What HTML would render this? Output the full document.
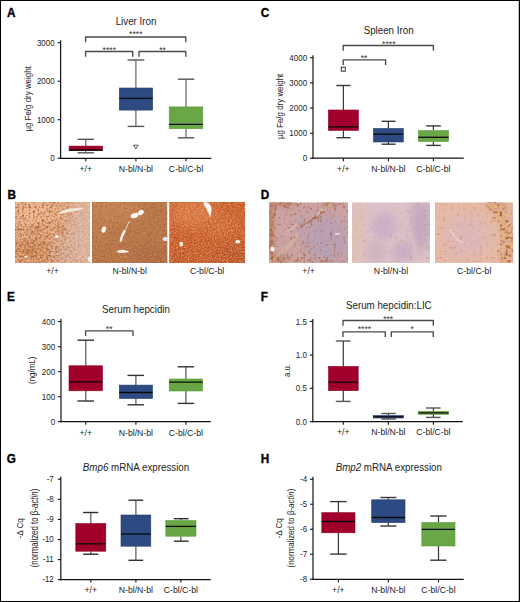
<!DOCTYPE html><html><head><meta charset="utf-8"><style>html,body{margin:0;padding:0;background:#fff}svg{display:block;font-family:"Liberation Sans",sans-serif}</style></head><body>
<svg width="520" height="602" viewBox="0 0 520 602">
<defs><filter id="b2" x="-100%" y="-100%" width="300%" height="300%"><feGaussianBlur stdDeviation="2"/></filter><filter id="b3" x="-100%" y="-100%" width="300%" height="300%"><feGaussianBlur stdDeviation="3"/></filter><filter id="b4" x="-100%" y="-100%" width="300%" height="300%"><feGaussianBlur stdDeviation="4"/></filter><filter id="b6" x="-100%" y="-100%" width="300%" height="300%"><feGaussianBlur stdDeviation="6"/></filter><filter id="b8" x="-100%" y="-100%" width="300%" height="300%"><feGaussianBlur stdDeviation="8"/></filter><filter id="b1" x="-50%" y="-50%" width="200%" height="200%"><feGaussianBlur stdDeviation="0.7"/></filter><linearGradient id="gB1" x1="0" y1="0" x2="1" y2="0"><stop offset="0" stop-color="#fff"/><stop offset="0.55" stop-color="#fff"/><stop offset="0.8" stop-color="#666"/><stop offset="1" stop-color="#222"/></linearGradient><mask id="mB1" maskContentUnits="userSpaceOnUse"><rect x="15" y="202" width="75" height="61" fill="url(#gB1)"/></mask><filter id="s_dark" x="0" y="0" width="100%" height="100%" color-interpolation-filters="sRGB"><feTurbulence type="fractalNoise" baseFrequency="0.28" numOctaves="1" seed="11"/><feColorMatrix type="matrix" values="0 0 0 0 0.588  0 0 0 0 0.294  0 0 0 0 0.137  6 0 0 0 -3.0"/><feGaussianBlur stdDeviation="0.9"/></filter><filter id="s_light" x="0" y="0" width="100%" height="100%" color-interpolation-filters="sRGB"><feTurbulence type="fractalNoise" baseFrequency="0.33" numOctaves="1" seed="5"/><feColorMatrix type="matrix" values="0 0 0 0 0.961  0 0 0 0 0.843  0 0 0 0 0.745  6 0 0 0 -3.3"/><feGaussianBlur stdDeviation="0.8"/></filter><filter id="s_brn" x="0" y="0" width="100%" height="100%" color-interpolation-filters="sRGB"><feTurbulence type="fractalNoise" baseFrequency="0.33" numOctaves="1" seed="31"/><feColorMatrix type="matrix" values="0 0 0 0 0.667  0 0 0 0 0.353  0 0 0 0 0.196  7 0 0 0 -4.0"/><feGaussianBlur stdDeviation="0.8"/></filter><filter id="s_org" x="0" y="0" width="100%" height="100%" color-interpolation-filters="sRGB"><feTurbulence type="fractalNoise" baseFrequency="0.33" numOctaves="1" seed="41"/><feColorMatrix type="matrix" values="0 0 0 0 0.784  0 0 0 0 0.471  0 0 0 0 0.275  7 0 0 0 -4.0"/><feGaussianBlur stdDeviation="0.8"/></filter><filter id="s_mott" x="0" y="0" width="100%" height="100%" color-interpolation-filters="sRGB"><feTurbulence type="fractalNoise" baseFrequency="0.09" numOctaves="3" seed="51"/><feColorMatrix type="matrix" values="0 0 0 0 0.588  0 0 0 0 0.314  0 0 0 0 0.176  3 0 0 0 -1.6"/><feGaussianBlur stdDeviation="1"/></filter><filter id="s_lightB" x="0" y="0" width="100%" height="100%" color-interpolation-filters="sRGB"><feTurbulence type="fractalNoise" baseFrequency="0.36" numOctaves="1" seed="71"/><feColorMatrix type="matrix" values="0 0 0 0 0.882  0 0 0 0 0.667  0 0 0 0 0.510  6 0 0 0 -3.3"/><feGaussianBlur stdDeviation="0.8"/></filter><filter id="s_lightC" x="0" y="0" width="100%" height="100%" color-interpolation-filters="sRGB"><feTurbulence type="fractalNoise" baseFrequency="0.33" numOctaves="1" seed="81"/><feColorMatrix type="matrix" values="0 0 0 0 0.922  0 0 0 0 0.647  0 0 0 0 0.451  6 0 0 0 -3.2"/><feGaussianBlur stdDeviation="0.8"/></filter><filter id="t_B1L" x="0" y="0" width="100%" height="100%" color-interpolation-filters="sRGB"><feTurbulence type="fractalNoise" baseFrequency="0.5" numOctaves="2" seed="101"/><feColorMatrix type="matrix" values="0 0 0 0 0.961  0 0 0 0 0.804  0 0 0 0 0.686  3 0 0 0 -1.25"/><feGaussianBlur stdDeviation="0.5"/></filter><filter id="t_B1D" x="0" y="0" width="100%" height="100%" color-interpolation-filters="sRGB"><feTurbulence type="fractalNoise" baseFrequency="0.45" numOctaves="2" seed="102"/><feColorMatrix type="matrix" values="0 0 0 0 0.627  0 0 0 0 0.314  0 0 0 0 0.149  3 0 0 0 -1.35"/><feGaussianBlur stdDeviation="0.5"/></filter><filter id="t_B2L" x="0" y="0" width="100%" height="100%" color-interpolation-filters="sRGB"><feTurbulence type="fractalNoise" baseFrequency="0.55" numOctaves="2" seed="103"/><feColorMatrix type="matrix" values="0 0 0 0 0.804  0 0 0 0 0.569  0 0 0 0 0.392  3 0 0 0 -1.2"/><feGaussianBlur stdDeviation="0.5"/></filter><filter id="t_B2D" x="0" y="0" width="100%" height="100%" color-interpolation-filters="sRGB"><feTurbulence type="fractalNoise" baseFrequency="0.5" numOctaves="2" seed="104"/><feColorMatrix type="matrix" values="0 0 0 0 0.549  0 0 0 0 0.314  0 0 0 0 0.157  3 0 0 0 -1.4"/><feGaussianBlur stdDeviation="0.5"/></filter><filter id="t_B3L" x="0" y="0" width="100%" height="100%" color-interpolation-filters="sRGB"><feTurbulence type="fractalNoise" baseFrequency="0.7" numOctaves="2" seed="105"/><feColorMatrix type="matrix" values="0 0 0 0 0.961  0 0 0 0 0.667  0 0 0 0 0.451  2.6 0 0 0 -1.0"/><feGaussianBlur stdDeviation="0.4"/></filter><filter id="t_B3D" x="0" y="0" width="100%" height="100%" color-interpolation-filters="sRGB"><feTurbulence type="fractalNoise" baseFrequency="0.6" numOctaves="2" seed="106"/><feColorMatrix type="matrix" values="0 0 0 0 0.627  0 0 0 0 0.235  0 0 0 0 0.098  2.6 0 0 0 -1.1"/><feGaussianBlur stdDeviation="0.4"/></filter><filter id="t_dots" x="0" y="0" width="100%" height="100%" color-interpolation-filters="sRGB"><feTurbulence type="fractalNoise" baseFrequency="0.3" numOctaves="1" seed="201"/><feColorMatrix type="matrix" values="0 0 0 0 0.627  0 0 0 0 0.333  0 0 0 0 0.196  12 0 0 0 -7.7"/><feGaussianBlur stdDeviation="0.45"/></filter><filter id="t_dots2" x="0" y="0" width="100%" height="100%" color-interpolation-filters="sRGB"><feTurbulence type="fractalNoise" baseFrequency="0.3" numOctaves="1" seed="202"/><feColorMatrix type="matrix" values="0 0 0 0 0.706  0 0 0 0 0.392  0 0 0 0 0.235  12 0 0 0 -7.7"/><feGaussianBlur stdDeviation="0.45"/></filter><filter id="t_dotsO" x="0" y="0" width="100%" height="100%" color-interpolation-filters="sRGB"><feTurbulence type="fractalNoise" baseFrequency="0.3" numOctaves="1" seed="203"/><feColorMatrix type="matrix" values="0 0 0 0 0.824  0 0 0 0 0.529  0 0 0 0 0.314  12 0 0 0 -7.7"/><feGaussianBlur stdDeviation="0.45"/></filter><linearGradient id="gD1" x1="0" y1="0" x2="1" y2="1"><stop offset="0" stop-color="#fff"/><stop offset="0.5" stop-color="#aaa"/><stop offset="1" stop-color="#444"/></linearGradient><mask id="mD1" maskContentUnits="userSpaceOnUse"><rect x="269.2" y="202.3" width="78.8" height="60.6" fill="url(#gD1)"/></mask><linearGradient id="gD3" x1="0" y1="0" x2="1" y2="0"><stop offset="0" stop-color="#555"/><stop offset="0.6" stop-color="#333"/><stop offset="0.8" stop-color="#bbb"/><stop offset="1" stop-color="#fff"/></linearGradient><mask id="mD3" maskContentUnits="userSpaceOnUse"><rect x="435" y="202.3" width="78.3" height="60.6" fill="url(#gD3)"/></mask><filter id="t_dotsD" x="0" y="0" width="100%" height="100%" color-interpolation-filters="sRGB"><feTurbulence type="fractalNoise" baseFrequency="0.35" numOctaves="1" seed="211"/><feColorMatrix type="matrix" values="0 0 0 0 0.667  0 0 0 0 0.373  0 0 0 0 0.196  8 0 0 0 -4.3"/><feGaussianBlur stdDeviation="0.45"/></filter><filter id="t_dotsG" x="0" y="0" width="100%" height="100%" color-interpolation-filters="sRGB"><feTurbulence type="fractalNoise" baseFrequency="0.35" numOctaves="1" seed="212"/><feColorMatrix type="matrix" values="0 0 0 0 0.922  0 0 0 0 0.725  0 0 0 0 0.471  8 0 0 0 -4.3"/><feGaussianBlur stdDeviation="0.45"/></filter><mask id="mD3b" maskContentUnits="userSpaceOnUse"><path d="M490 200 Q506 218 508 238 Q509 252 504 265" fill="none" stroke="#fff" stroke-width="11" filter="url(#b2)"/></mask><mask id="mD1b" maskContentUnits="userSpaceOnUse"><g fill="none" stroke="#fff" filter="url(#b2)"><path d="M271 200 L271 265" stroke-width="7"/><path d="M268 205 Q290 206 300 204" stroke-width="6"/><path d="M300 227 Q312 220 322 214 Q330 208 345 203" stroke-width="6"/><path d="M268 258 Q285 262 300 258 Q320 262 340 256" stroke-width="6"/><path d="M303 240 Q308 250 305 263" stroke-width="5"/></g></mask></defs>
<rect x="0" y="0" width="520" height="602" fill="#fff"/>
<text transform="translate(7.1 17.3) scale(0.95 1)" font-size="12.4" font-weight="bold" fill="#000" stroke="#000" stroke-width="0.35">A</text>
<text transform="translate(136 25.2) scale(0.94 1)" font-size="10.4" text-anchor="middle" fill="#1c1c1c">Liver Iron</text>
<text transform="translate(31.0 98.9) rotate(-90) scale(0.835 1)" x="0" y="0" font-size="9.5" text-anchor="middle" fill="#1c1c1c" >µg Fe/g dry weight</text>
<line x1="60.6" y1="40.2" x2="60.6" y2="158.9" stroke="#111" stroke-width="1.2"/>
<line x1="60.0" y1="158.3" x2="211.3" y2="158.3" stroke="#111" stroke-width="1.2"/>
<line x1="57.6" y1="42.7" x2="60.6" y2="42.7" stroke="#111" stroke-width="1.1"/>
<text transform="translate(54.70 45.80) scale(0.87 1)" font-size="9.2" text-anchor="end" fill="#1c1c1c">3000</text>
<line x1="57.6" y1="81.2" x2="60.6" y2="81.2" stroke="#111" stroke-width="1.1"/>
<text transform="translate(54.70 84.30) scale(0.87 1)" font-size="9.2" text-anchor="end" fill="#1c1c1c">2000</text>
<line x1="57.6" y1="119.7" x2="60.6" y2="119.7" stroke="#111" stroke-width="1.1"/>
<text transform="translate(54.70 122.80) scale(0.87 1)" font-size="9.2" text-anchor="end" fill="#1c1c1c">1000</text>
<line x1="57.6" y1="158.2" x2="60.6" y2="158.2" stroke="#111" stroke-width="1.1"/>
<text transform="translate(54.70 161.30) scale(0.87 1)" font-size="9.2" text-anchor="end" fill="#1c1c1c">0</text>
<line x1="85.8" y1="158.3" x2="85.8" y2="161.3" stroke="#111" stroke-width="1.1"/>
<text x="85.8" y="172.0" font-size="8.7" text-anchor="middle" fill="#1c1c1c" >+/+</text>
<line x1="135.9" y1="158.3" x2="135.9" y2="161.3" stroke="#111" stroke-width="1.1"/>
<text x="135.9" y="172.0" font-size="8.7" text-anchor="middle" fill="#1c1c1c" >N-bl/N-bl</text>
<line x1="186.0" y1="158.3" x2="186.0" y2="161.3" stroke="#111" stroke-width="1.1"/>
<text x="186.0" y="172.0" font-size="8.7" text-anchor="middle" fill="#1c1c1c" >C-bl/C-bl</text>
<path d="M85.6 42.3 V37.0 H185.8 V42.3" fill="none" stroke="#4a4a4a" stroke-width="1.35" stroke-linejoin="round"/>
<text x="135.8" y="37.4" font-size="8.6" text-anchor="middle" fill="#333" >****</text>
<path d="M85.6 56.8 V51.5 H132.7 V56.8" fill="none" stroke="#4a4a4a" stroke-width="1.35" stroke-linejoin="round"/>
<path d="M139.0 56.8 V51.5 H185.8 V56.8" fill="none" stroke="#4a4a4a" stroke-width="1.35" stroke-linejoin="round"/>
<text x="109.3" y="52.8" font-size="8.6" text-anchor="middle" fill="#333" >****</text>
<text x="162.6" y="52.8" font-size="8.6" text-anchor="middle" fill="#333" >**</text>
<line x1="85.8" y1="139.3" x2="85.8" y2="146.1" stroke="#666" stroke-width="1.2"/>
<line x1="85.8" y1="150.7" x2="85.8" y2="152.8" stroke="#666" stroke-width="1.2"/>
<line x1="77.6" y1="139.3" x2="93.9" y2="139.3" stroke="#555" stroke-width="1.4"/>
<line x1="77.6" y1="152.8" x2="93.9" y2="152.8" stroke="#555" stroke-width="1.4"/>
<rect x="69.1" y="146.1" width="33.400000000000006" height="4.599999999999994" fill="#a1002b" stroke="#8a0024" stroke-width="0.6"/>
<line x1="69.1" y1="150.0" x2="102.5" y2="150.0" stroke="#0a0a0a" stroke-width="1.3"/>
<line x1="135.9" y1="60.0" x2="135.9" y2="88.0" stroke="#666" stroke-width="1.2"/>
<line x1="135.9" y1="110.1" x2="135.9" y2="126.4" stroke="#666" stroke-width="1.2"/>
<line x1="127.6" y1="60.0" x2="144.3" y2="60.0" stroke="#555" stroke-width="1.4"/>
<line x1="127.6" y1="126.4" x2="144.3" y2="126.4" stroke="#555" stroke-width="1.4"/>
<rect x="119.3" y="88.0" width="33.3" height="22.099999999999994" fill="#2d4b82" stroke="#223c6c" stroke-width="0.6"/>
<line x1="119.3" y1="98.3" x2="152.6" y2="98.3" stroke="#0a0a0a" stroke-width="1.3"/>
<line x1="186.0" y1="79.2" x2="186.0" y2="106.9" stroke="#666" stroke-width="1.2"/>
<line x1="186.0" y1="128.7" x2="186.0" y2="137.8" stroke="#666" stroke-width="1.2"/>
<line x1="177.9" y1="79.2" x2="194.3" y2="79.2" stroke="#555" stroke-width="1.4"/>
<line x1="177.9" y1="137.8" x2="194.3" y2="137.8" stroke="#555" stroke-width="1.4"/>
<rect x="169.2" y="106.9" width="33.60000000000002" height="21.799999999999983" fill="#69a746" stroke="#5a9a3a" stroke-width="0.6"/>
<line x1="169.2" y1="124.4" x2="202.8" y2="124.4" stroke="#0a0a0a" stroke-width="1.3"/>
<path d="M133.7 145.2 H138.1 L135.9 148.9 Z" fill="none" stroke="#444" stroke-width="0.9"/>
<text transform="translate(7.4 198.9) scale(0.95 1)" font-size="12.4" font-weight="bold" fill="#000" stroke="#000" stroke-width="0.35">B</text>
<clipPath id="cb1"><rect x="15" y="202" width="75" height="61"/></clipPath>
<g clip-path="url(#cb1)">
<rect x="15" y="202" width="75" height="61" fill="#e0a77f"/>
<ellipse cx="32" cy="212" rx="20" ry="13" fill="#efbc94" filter="url(#b4)"/>
<ellipse cx="55" cy="210" rx="10" ry="7" fill="#e8b088" filter="url(#b4)"/>
<ellipse cx="32" cy="250" rx="18" ry="12" fill="#d2915f" filter="url(#b4)"/>
<path d="M74 202 L90 202 L90 263 L55 263 Q62 242 68 226 Z" fill="#d9b5a6" filter="url(#b6)"/>
<ellipse cx="62" cy="254" rx="10" ry="8" fill="#d6ae9a" filter="url(#b4)"/>
<ellipse cx="38" cy="229" rx="5" ry="3" fill="#a55a2c" opacity="0.45" filter="url(#b2)"/>
<ellipse cx="62" cy="230" rx="4" ry="2.5" fill="#a55a2c" opacity="0.4" filter="url(#b2)"/>
<ellipse cx="30" cy="250" rx="5" ry="3" fill="#a55a2c" opacity="0.5" filter="url(#b2)"/>
<ellipse cx="48" cy="258" rx="4" ry="2" fill="#a55a2c" opacity="0.4" filter="url(#b2)"/>
<ellipse cx="44" cy="243" rx="3" ry="2" fill="#a55a2c" opacity="0.35" filter="url(#b2)"/>
<rect x="15" y="202" width="75" height="61" fill="#000" filter="url(#t_B1L)" opacity="0.6"/>
<g opacity="0.8" mask="url(#mB1)"><rect x="15" y="202" width="75" height="61" fill="#000" filter="url(#t_B1D)"/></g>
<path d="M58.5 213.5 Q62 209.5 70 208.5 L84.5 207.5 Q82 210 74 211.3 Q66 212.3 60.5 214.3 Z" fill="#efe6dc"/>
<path d="M52 219 Q56 216 60 215" stroke="#e6d6ca" stroke-width="0.8" fill="none"/>
<ellipse cx="57" cy="236.8" rx="1.9" ry="1.5" fill="#fdfaf6"/>
<ellipse cx="26" cy="256.8" rx="1.7" ry="1.1" fill="#f8f2ea"/>
<path d="M21.5 238.5 L24.5 236.5" stroke="#f3ebe3" stroke-width="0.9"/>
<ellipse cx="89" cy="259" rx="1.5" ry="2.5" fill="#e8eef2"/>
</g>
<clipPath id="cb2"><rect x="92" y="202" width="75.4" height="61"/></clipPath>
<g clip-path="url(#cb2)">
<rect x="92" y="202" width="75.4" height="61" fill="#b97549"/>
<ellipse cx="115" cy="210" rx="30" ry="12" fill="#c98654" filter="url(#b6)"/>
<ellipse cx="100" cy="228" rx="8" ry="16" fill="#c2804f" filter="url(#b6)"/>
<ellipse cx="152" cy="256" rx="22" ry="9" fill="#ad6a40" filter="url(#b6)"/>
<rect x="92" y="202" width="75.4" height="61" fill="#000" filter="url(#t_B2L)" opacity="0.6"/>
<rect x="92" y="202" width="75.4" height="61" fill="#000" filter="url(#t_B2D)" opacity="0.4"/>
<g filter="url(#b1)" fill="#fbf8f3">
<ellipse cx="134.5" cy="215.6" rx="4" ry="2.4" transform="rotate(-20 134.5 215.6)"/>
<ellipse cx="140.8" cy="212.6" rx="3.2" ry="2.2" transform="rotate(-35 140.8 212.6)"/>
<ellipse cx="103.8" cy="229.5" rx="2.1" ry="3.3" transform="rotate(20 103.8 229.5)"/>
<path d="M129.5 221 Q127.5 225 125.5 229.5" stroke="#efe4d8" stroke-width="1" fill="none"/>
<path d="M124.5 231 Q122 235 120.8 240.5" stroke="#f6f0e8" stroke-width="2.4" fill="none" stroke-linecap="round"/>
<path d="M116.5 251.8 Q118 249.5 121 250 Q124 249.2 126 250.5 Q129 250.8 129 252.3 Q124 253.3 119 253 Z" fill="#f3ece2"/>
<ellipse cx="166" cy="239" rx="3.5" ry="2" fill="#dfeaf0"/>
</g>
</g>
<clipPath id="cb3"><rect x="169.2" y="202" width="75.8" height="61"/></clipPath>
<g clip-path="url(#cb3)">
<rect x="169.2" y="202" width="75.8" height="61" fill="#c65a28"/>
<ellipse cx="194" cy="214" rx="24" ry="14" fill="#da7c46" filter="url(#b6)"/>
<ellipse cx="222" cy="225" rx="16" ry="12" fill="#cf6a36" filter="url(#b6)"/>
<ellipse cx="232" cy="255" rx="20" ry="10" fill="#b4532a" filter="url(#b6)"/>
<ellipse cx="180" cy="258" rx="14" ry="8" fill="#bb5628" filter="url(#b6)"/>
<rect x="169.2" y="202" width="75.8" height="61" fill="#000" filter="url(#t_B3L)" opacity="0.75"/>
<rect x="169.2" y="202" width="75.8" height="61" fill="#000" filter="url(#t_B3D)" opacity="0.35"/>
<g filter="url(#b1)">
<path d="M203.3 202 Q207 201.8 209.6 204 Q212.2 207 211.2 212 L210.3 217.5 Q208.6 212.3 206 208.2 Q203.5 205 203.3 202 Z" fill="#fbf7f2"/>
<ellipse cx="181.3" cy="244.1" rx="2" ry="2.6" fill="#f4e8d0"/>
<ellipse cx="237.7" cy="241.7" rx="2.5" ry="1.6" fill="#fdfaf6"/>
</g>
</g>
<text x="52.5" y="273.9" font-size="8.7" text-anchor="middle" fill="#1c1c1c" >+/+</text>
<text x="129.7" y="273.9" font-size="8.7" text-anchor="middle" fill="#1c1c1c" >N-bl/N-bl</text>
<text x="207.1" y="273.9" font-size="8.7" text-anchor="middle" fill="#1c1c1c" >C-bl/C-bl</text>
<text transform="translate(260.8 17.3) scale(0.95 1)" font-size="12.4" font-weight="bold" fill="#000" stroke="#000" stroke-width="0.35">C</text>
<text transform="translate(388.6 33.7) scale(0.94 1)" font-size="10.4" text-anchor="middle" fill="#1c1c1c">Spleen Iron</text>
<text transform="translate(283.4 106.4) rotate(-90) scale(0.835 1)" x="0" y="0" font-size="9.5" text-anchor="middle" fill="#1c1c1c" >µg Fe/g dry weight</text>
<line x1="313.0" y1="55.2" x2="313.0" y2="158.79999999999998" stroke="#111" stroke-width="1.2"/>
<line x1="312.4" y1="158.2" x2="463.7" y2="158.2" stroke="#111" stroke-width="1.2"/>
<line x1="310.0" y1="57.7" x2="313.0" y2="57.7" stroke="#111" stroke-width="1.1"/>
<text transform="translate(307.10 60.80) scale(0.87 1)" font-size="9.2" text-anchor="end" fill="#1c1c1c">4000</text>
<line x1="310.0" y1="82.9" x2="313.0" y2="82.9" stroke="#111" stroke-width="1.1"/>
<text transform="translate(307.10 86.00) scale(0.87 1)" font-size="9.2" text-anchor="end" fill="#1c1c1c">3000</text>
<line x1="310.0" y1="108.1" x2="313.0" y2="108.1" stroke="#111" stroke-width="1.1"/>
<text transform="translate(307.10 111.20) scale(0.87 1)" font-size="9.2" text-anchor="end" fill="#1c1c1c">2000</text>
<line x1="310.0" y1="133.3" x2="313.0" y2="133.3" stroke="#111" stroke-width="1.1"/>
<text transform="translate(307.10 136.40) scale(0.87 1)" font-size="9.2" text-anchor="end" fill="#1c1c1c">1000</text>
<line x1="310.0" y1="158.2" x2="313.0" y2="158.2" stroke="#111" stroke-width="1.1"/>
<text transform="translate(307.10 161.30) scale(0.87 1)" font-size="9.2" text-anchor="end" fill="#1c1c1c">0</text>
<line x1="343.4" y1="158.2" x2="343.4" y2="161.2" stroke="#111" stroke-width="1.1"/>
<text x="343.4" y="171.9" font-size="8.7" text-anchor="middle" fill="#1c1c1c" >+/+</text>
<line x1="388.4" y1="158.2" x2="388.4" y2="161.2" stroke="#111" stroke-width="1.1"/>
<text x="388.4" y="171.9" font-size="8.7" text-anchor="middle" fill="#1c1c1c" >N-bl/N-bl</text>
<line x1="433.4" y1="158.2" x2="433.4" y2="161.2" stroke="#111" stroke-width="1.1"/>
<text x="433.4" y="171.9" font-size="8.7" text-anchor="middle" fill="#1c1c1c" >C-bl/C-bl</text>
<path d="M343.2 50.8 V45.5 H433.4 V50.8" fill="none" stroke="#4a4a4a" stroke-width="1.35" stroke-linejoin="round"/>
<text x="388.8" y="46.5" font-size="8.6" text-anchor="middle" fill="#333" >****</text>
<path d="M343.2 65.1 V59.8 H385.6 V65.1" fill="none" stroke="#4a4a4a" stroke-width="1.35" stroke-linejoin="round"/>
<text x="364.0" y="60.9" font-size="8.6" text-anchor="middle" fill="#333" >**</text>
<line x1="343.4" y1="85.5" x2="343.4" y2="110.0" stroke="#383838" stroke-width="1.2"/>
<line x1="343.4" y1="130.4" x2="343.4" y2="137.7" stroke="#383838" stroke-width="1.2"/>
<line x1="336.3" y1="85.5" x2="350.5" y2="85.5" stroke="#383838" stroke-width="1.4"/>
<line x1="336.3" y1="137.7" x2="350.5" y2="137.7" stroke="#383838" stroke-width="1.4"/>
<rect x="328.4" y="110.0" width="30.0" height="20.400000000000006" fill="#a1002b" stroke="#8a0024" stroke-width="0.6"/>
<line x1="328.4" y1="126.9" x2="358.4" y2="126.9" stroke="#0a0a0a" stroke-width="1.3"/>
<line x1="388.4" y1="121.3" x2="388.4" y2="128.5" stroke="#383838" stroke-width="1.2"/>
<line x1="388.4" y1="142.0" x2="388.4" y2="144.2" stroke="#383838" stroke-width="1.2"/>
<line x1="381.6" y1="121.3" x2="395.6" y2="121.3" stroke="#383838" stroke-width="1.4"/>
<line x1="381.6" y1="144.2" x2="395.6" y2="144.2" stroke="#383838" stroke-width="1.4"/>
<rect x="373.5" y="128.5" width="29.80000000000001" height="13.5" fill="#2d4b82" stroke="#223c6c" stroke-width="0.6"/>
<line x1="373.5" y1="134.2" x2="403.3" y2="134.2" stroke="#0a0a0a" stroke-width="1.3"/>
<line x1="433.4" y1="125.9" x2="433.4" y2="130.6" stroke="#383838" stroke-width="1.2"/>
<line x1="433.4" y1="141.5" x2="433.4" y2="145.4" stroke="#383838" stroke-width="1.2"/>
<line x1="426.2" y1="125.9" x2="440.8" y2="125.9" stroke="#383838" stroke-width="1.4"/>
<line x1="426.2" y1="145.4" x2="440.8" y2="145.4" stroke="#383838" stroke-width="1.4"/>
<rect x="418.4" y="130.6" width="30.100000000000023" height="10.900000000000006" fill="#69a746" stroke="#5a9a3a" stroke-width="0.6"/>
<line x1="418.4" y1="137.3" x2="448.5" y2="137.3" stroke="#0a0a0a" stroke-width="1.3"/>
<rect x="341.3" y="67.2" width="4" height="4" fill="none" stroke="#333" stroke-width="1"/>
<text transform="translate(260.8 199.1) scale(0.95 1)" font-size="12.4" font-weight="bold" fill="#000" stroke="#000" stroke-width="0.35">D</text>
<clipPath id="cd1"><rect x="269.2" y="202.3" width="78.8" height="60.6"/></clipPath>
<g clip-path="url(#cd1)">
<rect x="269.2" y="202.3" width="78.8" height="60.6" fill="#cba3a4"/>
<ellipse cx="326" cy="240" rx="22" ry="24" fill="#b9a0b3" filter="url(#b6)"/>
<ellipse cx="300" cy="226" rx="8" ry="10" fill="#bea2b0" filter="url(#b4)"/>
<ellipse cx="270" cy="232" rx="2.5" ry="34" fill="#b57650" filter="url(#b2)"/>
<ellipse cx="282" cy="203" rx="14" ry="2.5" fill="#b57a58" filter="url(#b2)"/>
<ellipse cx="329" cy="204" rx="7" ry="2.5" fill="#b5805e" filter="url(#b2)"/>
<ellipse cx="278" cy="259" rx="9" ry="5" fill="#bb8a6c" filter="url(#b3)"/>
<g filter="url(#b1)" opacity="0.6" fill="none" stroke-linecap="round">
<path d="M270 262 Q278 256 284 250 Q290 245 294 240 Q296.5 237 297.5 234" stroke="#d9bba0" stroke-width="3"/>
<path d="M286.5 234 Q292 228 297.5 223.5" stroke="#dcbfa4" stroke-width="2.6"/>
<path d="M299 252 Q299.5 257 298.5 263" stroke="#d3b09a" stroke-width="2.2"/>
<path d="M318 213 Q324 208 331 205" stroke="#d4bcae" stroke-width="3"/>
</g>
<path d="M301 226.5 Q310 221 320 215.5" fill="none" stroke="#a86a48" stroke-width="1.2" opacity="0.7" filter="url(#b1)"/>
<g mask="url(#mD1)"><rect x="269.2" y="202.3" width="78.8" height="60.6" fill="#000" filter="url(#t_dots)" opacity="0.7"/></g>
<rect x="269.2" y="202.3" width="78.8" height="60.6" fill="#000" filter="url(#t_dots2)" opacity="0.3"/>
<g mask="url(#mD1b)"><rect x="269.2" y="202.3" width="78.8" height="60.6" fill="#000" filter="url(#t_dotsD)" opacity="0.85"/></g>
<path d="M270.5 247.5 Q272.5 246 274.5 247.5 Q275.2 250 273.5 251.5 Q271 252 270.5 250 Z" fill="#f6f2ee"/>
<ellipse cx="337.4" cy="233.9" rx="2.8" ry="0.9" fill="#e6dcdc"/>
</g>
<clipPath id="cd2"><rect x="352" y="202.3" width="78" height="60.6"/></clipPath>
<g clip-path="url(#cd2)">
<rect x="352" y="202.3" width="78" height="60.6" fill="#dcc2c9"/>
<ellipse cx="358" cy="235" rx="7" ry="34" fill="#dfc1b4" filter="url(#b4)"/>
<ellipse cx="384" cy="226" rx="12" ry="13" fill="#ccaec8" filter="url(#b4)"/>
<ellipse cx="421" cy="225" rx="11" ry="26" fill="#c3a8c0" filter="url(#b6)"/>
<ellipse cx="404" cy="252" rx="12" ry="10" fill="#c9adc8" filter="url(#b4)"/>
<ellipse cx="376" cy="252" rx="10" ry="10" fill="#cfb2bf" filter="url(#b4)"/>
<path d="M398 210 Q408 222 412 240 Q414 252 418 262" fill="none" stroke="#dcc4c6" stroke-width="3" filter="url(#b2)"/>
<rect x="352" y="202.3" width="78" height="60.6" fill="#000" filter="url(#t_dotsO)" opacity="0.3"/>
</g>
<clipPath id="cd3"><rect x="435" y="202.3" width="78.3" height="60.6"/></clipPath>
<g clip-path="url(#cd3)">
<rect x="435" y="202.3" width="78.3" height="60.6" fill="#e5baa6"/>
<ellipse cx="466" cy="236" rx="22" ry="22" fill="#dfb8b9" filter="url(#b6)"/>
<path d="M490 200 Q506 218 508 238 Q509 252 504 265" fill="none" stroke="#dca888" stroke-width="9" filter="url(#b3)"/>
<ellipse cx="498" cy="205" rx="14" ry="3" fill="#dba587" filter="url(#b3)"/>
<path d="M450 229 Q453 236 458 240 Q461 242 463 243" fill="none" stroke="#f0dcd0" stroke-width="1.4" opacity="0.7" filter="url(#b1)"/>
<rect x="435" y="202.3" width="78.3" height="60.6" fill="#000" filter="url(#t_dotsO)" opacity="0.35"/>
<g mask="url(#mD3)"><rect x="435" y="202.3" width="78.3" height="60.6" fill="#000" filter="url(#t_dots)" opacity="0.5"/></g>
<g mask="url(#mD3b)"><rect x="435" y="202.3" width="78.3" height="60.6" fill="#000" filter="url(#t_dotsG)" opacity="0.9"/><rect x="435" y="202.3" width="78.3" height="60.6" fill="#000" filter="url(#t_dotsD)" opacity="0.9"/></g>
</g>
<text x="308.6" y="273.9" font-size="8.7" text-anchor="middle" fill="#1c1c1c" >+/+</text>
<text x="391.0" y="273.9" font-size="8.7" text-anchor="middle" fill="#1c1c1c" >N-bl/N-bl</text>
<text x="474.2" y="273.9" font-size="8.7" text-anchor="middle" fill="#1c1c1c" >C-bl/C-bl</text>
<text transform="translate(7.1 301.4) scale(0.95 1)" font-size="12.4" font-weight="bold" fill="#000" stroke="#000" stroke-width="0.35">E</text>
<text transform="translate(136 313.1) scale(0.94 1)" font-size="10.4" text-anchor="middle" fill="#1c1c1c">Serum hepcidin</text>
<text transform="translate(34.8 370.3) rotate(-90) scale(0.81 1)" x="0" y="0" font-size="9.8" text-anchor="middle" fill="#1c1c1c" >(ng/mL)</text>
<line x1="61.0" y1="319.0" x2="61.0" y2="422.3" stroke="#111" stroke-width="1.2"/>
<line x1="60.4" y1="421.7" x2="210.8" y2="421.7" stroke="#111" stroke-width="1.2"/>
<line x1="58.0" y1="321.6" x2="61.0" y2="321.6" stroke="#111" stroke-width="1.1"/>
<text transform="translate(55.10 324.70) scale(0.87 1)" font-size="9.2" text-anchor="end" fill="#1c1c1c">400</text>
<line x1="58.0" y1="346.7" x2="61.0" y2="346.7" stroke="#111" stroke-width="1.1"/>
<text transform="translate(55.10 349.80) scale(0.87 1)" font-size="9.2" text-anchor="end" fill="#1c1c1c">300</text>
<line x1="58.0" y1="371.7" x2="61.0" y2="371.7" stroke="#111" stroke-width="1.1"/>
<text transform="translate(55.10 374.80) scale(0.87 1)" font-size="9.2" text-anchor="end" fill="#1c1c1c">200</text>
<line x1="58.0" y1="396.7" x2="61.0" y2="396.7" stroke="#111" stroke-width="1.1"/>
<text transform="translate(55.10 399.80) scale(0.87 1)" font-size="9.2" text-anchor="end" fill="#1c1c1c">100</text>
<line x1="58.0" y1="421.6" x2="61.0" y2="421.6" stroke="#111" stroke-width="1.1"/>
<text transform="translate(55.10 424.70) scale(0.87 1)" font-size="9.2" text-anchor="end" fill="#1c1c1c">0</text>
<line x1="85.8" y1="421.7" x2="85.8" y2="424.7" stroke="#111" stroke-width="1.1"/>
<text x="85.8" y="435.6" font-size="8.7" text-anchor="middle" fill="#1c1c1c" >+/+</text>
<line x1="135.9" y1="421.7" x2="135.9" y2="424.7" stroke="#111" stroke-width="1.1"/>
<text x="135.9" y="435.6" font-size="8.7" text-anchor="middle" fill="#1c1c1c" >N-bl/N-bl</text>
<line x1="185.9" y1="421.7" x2="185.9" y2="424.7" stroke="#111" stroke-width="1.1"/>
<text x="185.9" y="435.6" font-size="8.7" text-anchor="middle" fill="#1c1c1c" >C-bl/C-bl</text>
<path d="M85.6 336.1 V330.8 H133.0 V336.1" fill="none" stroke="#4a4a4a" stroke-width="1.35" stroke-linejoin="round"/>
<text x="109.2" y="331.6" font-size="8.6" text-anchor="middle" fill="#333" >**</text>
<line x1="85.8" y1="340.2" x2="85.8" y2="365.8" stroke="#555" stroke-width="1.2"/>
<line x1="85.8" y1="390.8" x2="85.8" y2="401.0" stroke="#555" stroke-width="1.2"/>
<line x1="77.5" y1="340.2" x2="94.0" y2="340.2" stroke="#333" stroke-width="1.4"/>
<line x1="77.5" y1="401.0" x2="94.0" y2="401.0" stroke="#333" stroke-width="1.4"/>
<rect x="69.0" y="365.8" width="33.5" height="25.0" fill="#a1002b" stroke="#8a0024" stroke-width="0.6"/>
<line x1="69.0" y1="381.8" x2="102.5" y2="381.8" stroke="#0a0a0a" stroke-width="1.3"/>
<line x1="135.9" y1="375.4" x2="135.9" y2="385.1" stroke="#555" stroke-width="1.2"/>
<line x1="135.9" y1="398.5" x2="135.9" y2="404.8" stroke="#555" stroke-width="1.2"/>
<line x1="127.5" y1="375.4" x2="144.0" y2="375.4" stroke="#333" stroke-width="1.4"/>
<line x1="127.5" y1="404.8" x2="144.0" y2="404.8" stroke="#333" stroke-width="1.4"/>
<rect x="119.3" y="385.1" width="33.2" height="13.399999999999977" fill="#2d4b82" stroke="#223c6c" stroke-width="0.6"/>
<line x1="119.3" y1="392.5" x2="152.5" y2="392.5" stroke="#0a0a0a" stroke-width="1.3"/>
<line x1="185.9" y1="366.8" x2="185.9" y2="379.0" stroke="#555" stroke-width="1.2"/>
<line x1="185.9" y1="391.0" x2="185.9" y2="403.4" stroke="#555" stroke-width="1.2"/>
<line x1="177.7" y1="366.8" x2="194.2" y2="366.8" stroke="#333" stroke-width="1.4"/>
<line x1="177.7" y1="403.4" x2="194.2" y2="403.4" stroke="#333" stroke-width="1.4"/>
<rect x="169.2" y="379.0" width="33.400000000000006" height="12.0" fill="#69a746" stroke="#5a9a3a" stroke-width="0.6"/>
<line x1="169.2" y1="382.2" x2="202.6" y2="382.2" stroke="#0a0a0a" stroke-width="1.3"/>
<text transform="translate(260.8 301.4) scale(0.95 1)" font-size="12.4" font-weight="bold" fill="#000" stroke="#000" stroke-width="0.35">F</text>
<text transform="translate(388.8 309.0) scale(0.94 1)" font-size="10.4" text-anchor="middle" fill="#1c1c1c">Serum hepcidin:LIC</text>
<text transform="translate(290.2 370.5) rotate(-90) scale(0.84 1)" x="0" y="0" font-size="9.2" text-anchor="middle" fill="#1c1c1c" >a.u.</text>
<line x1="312.8" y1="319.0" x2="312.8" y2="422.3" stroke="#111" stroke-width="1.2"/>
<line x1="312.2" y1="421.7" x2="462.7" y2="421.7" stroke="#111" stroke-width="1.2"/>
<line x1="309.8" y1="321.4" x2="312.8" y2="321.4" stroke="#111" stroke-width="1.1"/>
<text transform="translate(306.90 324.50) scale(0.87 1)" font-size="9.2" text-anchor="end" fill="#1c1c1c">1.5</text>
<line x1="309.8" y1="355.0" x2="312.8" y2="355.0" stroke="#111" stroke-width="1.1"/>
<text transform="translate(306.90 358.10) scale(0.87 1)" font-size="9.2" text-anchor="end" fill="#1c1c1c">1.0</text>
<line x1="309.8" y1="388.3" x2="312.8" y2="388.3" stroke="#111" stroke-width="1.1"/>
<text transform="translate(306.90 391.40) scale(0.87 1)" font-size="9.2" text-anchor="end" fill="#1c1c1c">0.5</text>
<line x1="309.8" y1="421.7" x2="312.8" y2="421.7" stroke="#111" stroke-width="1.1"/>
<text transform="translate(306.90 424.80) scale(0.87 1)" font-size="9.2" text-anchor="end" fill="#1c1c1c">0.0</text>
<line x1="343.3" y1="421.7" x2="343.3" y2="424.7" stroke="#111" stroke-width="1.1"/>
<text x="343.3" y="435.4" font-size="8.7" text-anchor="middle" fill="#1c1c1c" >+/+</text>
<line x1="388.4" y1="421.7" x2="388.4" y2="424.7" stroke="#111" stroke-width="1.1"/>
<text x="388.4" y="435.4" font-size="8.7" text-anchor="middle" fill="#1c1c1c" >N-bl/N-bl</text>
<line x1="433.4" y1="421.7" x2="433.4" y2="424.7" stroke="#111" stroke-width="1.1"/>
<text x="433.4" y="435.4" font-size="8.7" text-anchor="middle" fill="#1c1c1c" >C-bl/C-bl</text>
<path d="M343.0 325.8 V320.5 H433.3 V325.8" fill="none" stroke="#4a4a4a" stroke-width="1.35" stroke-linejoin="round"/>
<text x="388.2" y="321.5" font-size="8.6" text-anchor="middle" fill="#333" >***</text>
<path d="M343.0 337.1 V331.8 H385.3 V337.1" fill="none" stroke="#4a4a4a" stroke-width="1.35" stroke-linejoin="round"/>
<path d="M391.3 337.1 V331.8 H433.3 V337.1" fill="none" stroke="#4a4a4a" stroke-width="1.35" stroke-linejoin="round"/>
<text x="364.4" y="332.0" font-size="8.6" text-anchor="middle" fill="#333" >****</text>
<text x="412.1" y="332.0" font-size="8.6" text-anchor="middle" fill="#333" >*</text>
<line x1="343.3" y1="341.0" x2="343.3" y2="366.4" stroke="#383838" stroke-width="1.2"/>
<line x1="343.3" y1="390.7" x2="343.3" y2="401.4" stroke="#383838" stroke-width="1.2"/>
<line x1="335.8" y1="341.0" x2="350.6" y2="341.0" stroke="#555" stroke-width="1.4"/>
<line x1="335.8" y1="401.4" x2="350.6" y2="401.4" stroke="#555" stroke-width="1.4"/>
<rect x="328.5" y="366.4" width="29.69999999999999" height="24.30000000000001" fill="#a1002b" stroke="#8a0024" stroke-width="0.6"/>
<line x1="328.5" y1="382.2" x2="358.2" y2="382.2" stroke="#0a0a0a" stroke-width="1.3"/>
<line x1="388.4" y1="413.5" x2="388.4" y2="415.5" stroke="#383838" stroke-width="1.2"/>
<line x1="388.4" y1="418.0" x2="388.4" y2="419.0" stroke="#383838" stroke-width="1.2"/>
<line x1="381.3" y1="413.5" x2="395.8" y2="413.5" stroke="#555" stroke-width="1.4"/>
<line x1="381.3" y1="419.0" x2="395.8" y2="419.0" stroke="#555" stroke-width="1.4"/>
<rect x="373.3" y="415.5" width="30.099999999999966" height="2.5" fill="#2d4b82" stroke="#223c6c" stroke-width="0.6"/>
<line x1="373.3" y1="416.8" x2="403.4" y2="416.8" stroke="#0a0a0a" stroke-width="1.2"/>
<line x1="433.4" y1="408.0" x2="433.4" y2="411.4" stroke="#383838" stroke-width="1.2"/>
<line x1="433.4" y1="414.3" x2="433.4" y2="417.4" stroke="#383838" stroke-width="1.2"/>
<line x1="426.0" y1="408.0" x2="440.6" y2="408.0" stroke="#555" stroke-width="1.4"/>
<line x1="426.0" y1="417.4" x2="440.6" y2="417.4" stroke="#555" stroke-width="1.4"/>
<rect x="418.5" y="411.4" width="30.100000000000023" height="2.900000000000034" fill="#69a746" stroke="#5a9a3a" stroke-width="0.6"/>
<line x1="418.5" y1="412.9" x2="448.6" y2="412.9" stroke="#0a0a0a" stroke-width="1.2"/>
<text transform="translate(6.8 462.9) scale(0.95 1)" font-size="12.4" font-weight="bold" fill="#000" stroke="#000" stroke-width="0.35">G</text>
<text transform="translate(136 471) scale(0.94 1)" font-size="10.4" text-anchor="middle" fill="#1c1c1c"><tspan font-style="italic">Bmp6</tspan> mRNA expression</text>
<text transform="translate(23.2 528.3) rotate(-90) scale(0.88 1)" x="0" y="0" font-size="9.2" text-anchor="middle" fill="#1c1c1c" >-Δ Cq</text>
<text transform="translate(38.3 528.0) rotate(-90) scale(0.705 1)" x="0" y="0" font-size="11.2" text-anchor="middle" fill="#1c1c1c" >(normalized to β-<tspan font-style="italic">actin</tspan>)</text>
<line x1="60.8" y1="476.7" x2="60.8" y2="580.2" stroke="#111" stroke-width="1.2"/>
<line x1="60.199999999999996" y1="579.6" x2="210.8" y2="579.6" stroke="#111" stroke-width="1.2"/>
<line x1="57.8" y1="479.2" x2="60.8" y2="479.2" stroke="#111" stroke-width="1.1"/>
<text transform="translate(53.80 481.80) scale(0.87 1)" font-size="9.2" text-anchor="end" fill="#1c1c1c">-7</text>
<line x1="57.8" y1="499.3" x2="60.8" y2="499.3" stroke="#111" stroke-width="1.1"/>
<text transform="translate(53.80 501.90) scale(0.87 1)" font-size="9.2" text-anchor="end" fill="#1c1c1c">-8</text>
<line x1="57.8" y1="519.4" x2="60.8" y2="519.4" stroke="#111" stroke-width="1.1"/>
<text transform="translate(53.80 522.00) scale(0.87 1)" font-size="9.2" text-anchor="end" fill="#1c1c1c">-9</text>
<line x1="57.8" y1="539.5" x2="60.8" y2="539.5" stroke="#111" stroke-width="1.1"/>
<text transform="translate(53.80 542.10) scale(0.87 1)" font-size="9.2" text-anchor="end" fill="#1c1c1c">-10</text>
<line x1="57.8" y1="559.6" x2="60.8" y2="559.6" stroke="#111" stroke-width="1.1"/>
<text transform="translate(53.80 562.20) scale(0.87 1)" font-size="9.2" text-anchor="end" fill="#1c1c1c">-11</text>
<line x1="57.8" y1="579.6" x2="60.8" y2="579.6" stroke="#111" stroke-width="1.1"/>
<text transform="translate(53.80 582.20) scale(0.87 1)" font-size="9.2" text-anchor="end" fill="#1c1c1c">-12</text>
<line x1="90.8" y1="579.6" x2="90.8" y2="582.6" stroke="#111" stroke-width="1.1"/>
<text x="90.8" y="593.1" font-size="8.7" text-anchor="middle" fill="#1c1c1c" >+/+</text>
<line x1="135.9" y1="579.6" x2="135.9" y2="582.6" stroke="#111" stroke-width="1.1"/>
<text x="135.9" y="593.1" font-size="8.7" text-anchor="middle" fill="#1c1c1c" >N-bl/N-bl</text>
<line x1="180.9" y1="579.6" x2="180.9" y2="582.6" stroke="#111" stroke-width="1.1"/>
<text x="180.9" y="593.1" font-size="8.7" text-anchor="middle" fill="#1c1c1c" >C-bl/C-bl</text>
<line x1="90.8" y1="512.5" x2="90.8" y2="523.5" stroke="#555" stroke-width="1.2"/>
<line x1="90.8" y1="551.2" x2="90.8" y2="554.2" stroke="#555" stroke-width="1.2"/>
<line x1="83.1" y1="512.5" x2="98.3" y2="512.5" stroke="#2e2e2e" stroke-width="1.4"/>
<line x1="83.1" y1="554.2" x2="98.3" y2="554.2" stroke="#2e2e2e" stroke-width="1.4"/>
<rect x="75.8" y="523.5" width="30.0" height="27.700000000000045" fill="#a1002b" stroke="#8a0024" stroke-width="0.6"/>
<line x1="75.8" y1="543.8" x2="105.8" y2="543.8" stroke="#0a0a0a" stroke-width="1.3"/>
<line x1="135.9" y1="500.2" x2="135.9" y2="515.0" stroke="#555" stroke-width="1.2"/>
<line x1="135.9" y1="546.2" x2="135.9" y2="560.3" stroke="#555" stroke-width="1.2"/>
<line x1="128.5" y1="500.2" x2="143.1" y2="500.2" stroke="#2e2e2e" stroke-width="1.4"/>
<line x1="128.5" y1="560.3" x2="143.1" y2="560.3" stroke="#2e2e2e" stroke-width="1.4"/>
<rect x="121.0" y="515.0" width="29.80000000000001" height="31.200000000000045" fill="#2d4b82" stroke="#223c6c" stroke-width="0.6"/>
<line x1="121.0" y1="534.0" x2="150.8" y2="534.0" stroke="#0a0a0a" stroke-width="1.3"/>
<line x1="180.9" y1="518.7" x2="180.9" y2="520.5" stroke="#555" stroke-width="1.2"/>
<line x1="180.9" y1="536.2" x2="180.9" y2="541.2" stroke="#555" stroke-width="1.2"/>
<line x1="173.8" y1="518.7" x2="188.6" y2="518.7" stroke="#2e2e2e" stroke-width="1.4"/>
<line x1="173.8" y1="541.2" x2="188.6" y2="541.2" stroke="#2e2e2e" stroke-width="1.4"/>
<rect x="165.8" y="520.5" width="30.19999999999999" height="15.700000000000045" fill="#69a746" stroke="#5a9a3a" stroke-width="0.6"/>
<line x1="165.8" y1="526.4" x2="196.0" y2="526.4" stroke="#0a0a0a" stroke-width="1.3"/>
<text transform="translate(260.8 462.9) scale(0.95 1)" font-size="12.4" font-weight="bold" fill="#000" stroke="#000" stroke-width="0.35">H</text>
<text transform="translate(388.8 471) scale(0.94 1)" font-size="10.4" text-anchor="middle" fill="#1c1c1c"><tspan font-style="italic">Bmp2</tspan> mRNA expression</text>
<text transform="translate(281.9 528.3) rotate(-90) scale(0.88 1)" x="0" y="0" font-size="9.2" text-anchor="middle" fill="#1c1c1c" >-Δ Cq</text>
<text transform="translate(293.5 528.0) rotate(-90) scale(0.9 1)" x="0" y="0" font-size="8.8" text-anchor="middle" fill="#1c1c1c" >(normalized to β-<tspan font-style="italic">actin</tspan>)</text>
<line x1="313.0" y1="476.7" x2="313.0" y2="580.0" stroke="#111" stroke-width="1.2"/>
<line x1="312.4" y1="579.4" x2="463.7" y2="579.4" stroke="#111" stroke-width="1.2"/>
<line x1="310.0" y1="479.2" x2="313.0" y2="479.2" stroke="#111" stroke-width="1.1"/>
<text transform="translate(307.10 482.30) scale(0.87 1)" font-size="9.2" text-anchor="end" fill="#1c1c1c">-4</text>
<line x1="310.0" y1="504.2" x2="313.0" y2="504.2" stroke="#111" stroke-width="1.1"/>
<text transform="translate(307.10 507.30) scale(0.87 1)" font-size="9.2" text-anchor="end" fill="#1c1c1c">-5</text>
<line x1="310.0" y1="529.2" x2="313.0" y2="529.2" stroke="#111" stroke-width="1.1"/>
<text transform="translate(307.10 532.30) scale(0.87 1)" font-size="9.2" text-anchor="end" fill="#1c1c1c">-6</text>
<line x1="310.0" y1="554.2" x2="313.0" y2="554.2" stroke="#111" stroke-width="1.1"/>
<text transform="translate(307.10 557.30) scale(0.87 1)" font-size="9.2" text-anchor="end" fill="#1c1c1c">-7</text>
<line x1="310.0" y1="579.2" x2="313.0" y2="579.2" stroke="#111" stroke-width="1.1"/>
<text transform="translate(307.10 582.30) scale(0.87 1)" font-size="9.2" text-anchor="end" fill="#1c1c1c">-8</text>
<line x1="338.4" y1="579.4" x2="338.4" y2="582.4" stroke="#111" stroke-width="1.1"/>
<text x="338.4" y="593.3" font-size="8.7" text-anchor="middle" fill="#1c1c1c" >+/+</text>
<line x1="388.3" y1="579.4" x2="388.3" y2="582.4" stroke="#111" stroke-width="1.1"/>
<text x="388.3" y="593.3" font-size="8.7" text-anchor="middle" fill="#1c1c1c" >N-bl/N-bl</text>
<line x1="438.5" y1="579.4" x2="438.5" y2="582.4" stroke="#111" stroke-width="1.1"/>
<text x="438.5" y="593.3" font-size="8.7" text-anchor="middle" fill="#1c1c1c" >C-bl/C-bl</text>
<line x1="338.4" y1="501.6" x2="338.4" y2="512.7" stroke="#383838" stroke-width="1.2"/>
<line x1="338.4" y1="532.8" x2="338.4" y2="554.1" stroke="#383838" stroke-width="1.2"/>
<line x1="330.1" y1="501.6" x2="346.7" y2="501.6" stroke="#383838" stroke-width="1.4"/>
<line x1="330.1" y1="554.1" x2="346.7" y2="554.1" stroke="#383838" stroke-width="1.4"/>
<rect x="321.8" y="512.7" width="33.19999999999999" height="20.09999999999991" fill="#a1002b" stroke="#8a0024" stroke-width="0.6"/>
<line x1="321.8" y1="521.5" x2="355.0" y2="521.5" stroke="#0a0a0a" stroke-width="1.3"/>
<line x1="388.3" y1="497.5" x2="388.3" y2="499.8" stroke="#383838" stroke-width="1.2"/>
<line x1="388.3" y1="522.6" x2="388.3" y2="526.0" stroke="#383838" stroke-width="1.2"/>
<line x1="380.4" y1="497.5" x2="396.4" y2="497.5" stroke="#383838" stroke-width="1.4"/>
<line x1="380.4" y1="526.0" x2="396.4" y2="526.0" stroke="#383838" stroke-width="1.4"/>
<rect x="371.7" y="499.8" width="33.30000000000001" height="22.80000000000001" fill="#2d4b82" stroke="#223c6c" stroke-width="0.6"/>
<line x1="371.7" y1="517.5" x2="405.0" y2="517.5" stroke="#0a0a0a" stroke-width="1.3"/>
<line x1="438.5" y1="516.0" x2="438.5" y2="522.5" stroke="#383838" stroke-width="1.2"/>
<line x1="438.5" y1="546.0" x2="438.5" y2="560.2" stroke="#383838" stroke-width="1.2"/>
<line x1="430.2" y1="516.0" x2="446.5" y2="516.0" stroke="#383838" stroke-width="1.4"/>
<line x1="430.2" y1="560.2" x2="446.5" y2="560.2" stroke="#383838" stroke-width="1.4"/>
<rect x="421.8" y="522.5" width="33.19999999999999" height="23.5" fill="#69a746" stroke="#5a9a3a" stroke-width="0.6"/>
<line x1="421.8" y1="529.3" x2="455.0" y2="529.3" stroke="#0a0a0a" stroke-width="1.3"/>
<rect x="0.5" y="0.5" width="519" height="601" fill="none" stroke="#000" stroke-width="1"/>
<line x1="518.5" y1="1" x2="518.5" y2="601" stroke="#000" stroke-width="1" opacity="0.2"/>
</svg></body></html>
